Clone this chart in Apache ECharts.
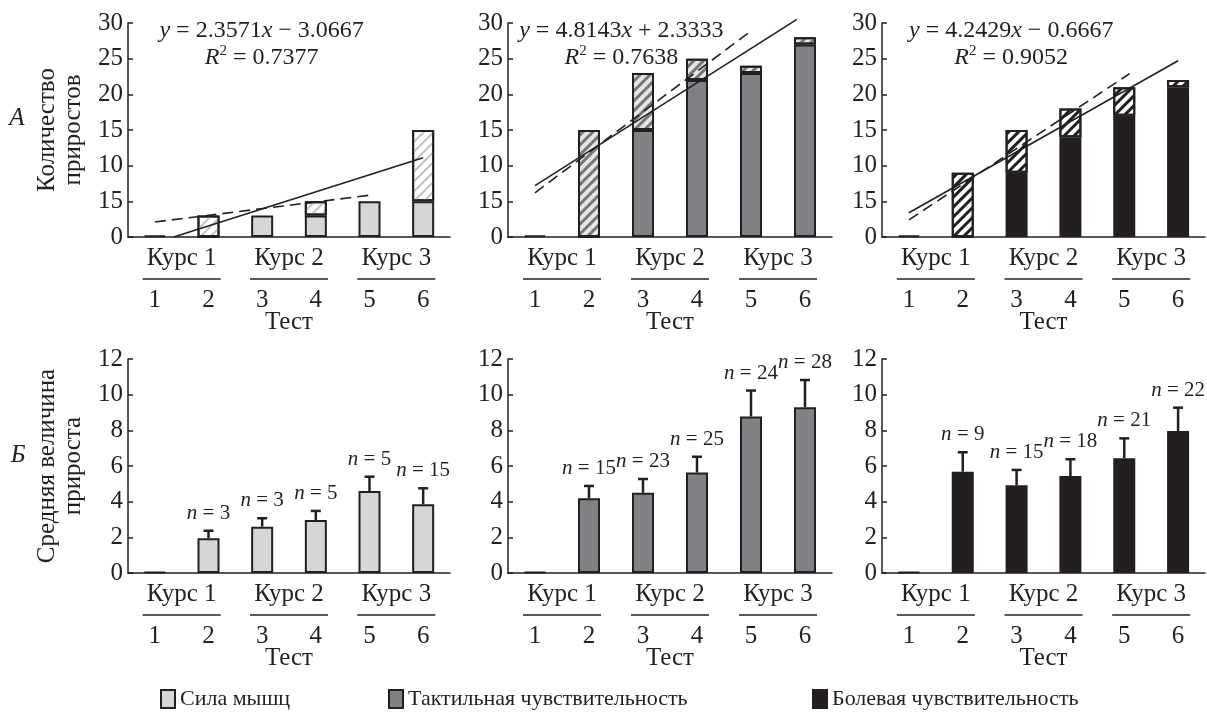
<!DOCTYPE html>
<html>
<head>
<meta charset="utf-8">
<script src="https://cdn.jsdelivr.net/npm/echarts@6/dist/echarts.min.js"></script>
<style>
  html, body { margin: 0; padding: 0; background: #fff; }
  #chart { width: 1207px; height: 712px; }
</style>
</head>
<body>
<div id="chart"></div>
<script>
// categories and labels
let tests = ['1', '2', '3', '4', '5', '6'];
let courses = ['Курс 1', 'Курс 2', 'Курс 3'];
let topTickLabels = ['0', '15', '10', '15', '20', '25', '30'];
let groupNames = ['Сила мышц', 'Тактильная чувствительность', 'Болевая чувствительность'];

// row A: number of gains (solid part + hatched part), per panel
let topSolid = [
  [0.2, 0, 3, 3, 5, 5],
  [0.2, 0, 15, 22, 23, 27],
  [0.2, 0, 9, 14, 17, 21]
];
let topHatch = [
  [0, 3, 0, 2, 0, 10],
  [0, 15, 8, 3, 1, 1],
  [0, 9, 6, 4, 4, 1]
];
// trend lines: [test, value]
let solidTrend = [
  [[1.35, 0], [6, 11.1]],
  [[1, 7.2], [5.85, 30.5]],
  [[1, 3.4], [6, 24.7]]
];
let dashTrend = [
  [[1, 2.1], [5.05, 5.9]],
  [[1, 6.2], [5.02, 29]],
  [[1, 2.4], [5.1, 22.9]]
];
let equations = [
  ['{i|y} = 2.3571{i|x} − 3.0667', '{i|R}{s|2} = 0.7377'],
  ['{i|y} = 4.8143{i|x} + 2.3333', '{i|R}{s|2} = 0.7638'],
  ['{i|y} = 4.2429{i|x} − 0.6667', '{i|R}{s|2} = 0.9052']
];

// row Б: mean gain, error (upper half), n
let meanGain = [
  [0.05, 1.95, 2.6, 2.97, 4.6, 3.85],
  [0.05, 4.19, 4.5, 5.63, 8.77, 9.29],
  [0.05, 5.68, 4.92, 5.44, 6.43, 7.96]
];
let gainErr = [
  [0, 0.42, 0.47, 0.51, 0.8, 0.9],
  [0, 0.69, 0.77, 0.89, 1.46, 1.53],
  [0, 1.09, 0.86, 0.94, 1.12, 1.31]
];
let nCounts = [
  ['', '3', '3', '5', '5', '15'],
  ['', '15', '23', '25', '24', '28'],
  ['', '9', '15', '18', '21', '22']
];

let FONT = '"Liberation Serif", "DejaVu Serif", serif';
let INK = '#231f20';
let FILLS = ['#d5d6d8', '#808184', '#231f20'];
let HATCH = ['#c2c2c4', '#76777a', '#231f20'];
let HATCH_BG = ['#ffffff', '#e6e6e7', '#ffffff'];
let lefts = [128, 508, 882];
let widths = [322, 324, 323];
let tops = [23, 359];
let PH = 214;

let chart = echarts.init(document.getElementById('chart'));

let txt = { fontFamily: FONT, color: INK };
let grid = [], xAxis = [], yAxis = [], series = [], graphic = [];

for (let row = 0; row < 2; row++) {
  for (let col = 0; col < 3; col++) {
    let gi = row * 3 + col;
    grid.push({ left: lefts[col], top: tops[row], width: widths[col], height: PH, containLabel: false, outerBoundsMode: 'none' });

    let mainX = xAxis.length;
    xAxis.push({
      gridIndex: gi, type: 'category', data: tests, position: 'bottom',
      axisLine: { lineStyle: { color: INK, width: 1.5 } },
      axisTick: { show: false },
      axisLabel: { ...txt, interval: 0, margin: 51, fontSize: 25, lineHeight: 25 },
      name: 'Тест', nameLocation: 'middle', nameGap: 73, nameMoveOverlap: false,
      nameTextStyle: { ...txt, fontSize: 25, lineHeight: 25 }
    });
    xAxis.push({
      gridIndex: gi, type: 'category', data: courses, position: 'bottom', offset: 0,
      axisLine: { show: false }, axisTick: { show: false }, splitLine: { show: false },
      axisLabel: {
        interval: 0, margin: 8,
        formatter: v => `{k|${v}}\n{u|}`,
        rich: {
          k: { ...txt, fontSize: 25, lineHeight: 26 },
          u: { width: 78, height: 1.6, lineHeight: 16, backgroundColor: INK }
        }
      }
    });

    yAxis.push({
      gridIndex: gi, type: 'value', min: 0,
      max: row === 0 ? 30 : 12, interval: row === 0 ? 5 : 2,
      axisLine: { show: true, lineStyle: { color: INK, width: 1.5 } },
      axisTick: { show: true, inside: true, length: 5, lineStyle: { color: INK, width: 1.5 } },
      splitLine: { show: false },
      axisLabel: {
        ...txt, fontSize: 25, margin: 5,
        formatter: row === 0 ? (v => topTickLabels[Math.round(v / 5)]) : (v => String(v))
      },
      name: col === 0 ? (row === 0 ? 'Количество\nприростов' : 'Средняя величина\nприроста') : '',
      nameLocation: 'middle', nameRotate: 90, nameGap: 42, nameMoveOverlap: false,
      nameTextStyle: { ...txt, fontSize: 25, lineHeight: 26 }
    });

    let barBorder = { borderColor: INK, borderWidth: 2 };

    if (row === 0) {
      let valX = xAxis.length;
      xAxis.push({ gridIndex: gi, type: 'value', min: 0.5, max: 6.5, show: false });

      series.push({
        type: 'bar', name: 'solid' + col, xAxisIndex: mainX, yAxisIndex: gi,
        stack: 'a' + col, barWidth: 22, data: topSolid[col],
        itemStyle: { color: FILLS[col], ...barBorder }
      });
      series.push({
        type: 'bar', name: 'hatch' + col, xAxisIndex: mainX, yAxisIndex: gi,
        stack: 'a' + col, barWidth: 22,
        data: topHatch[col].map(v => (v ? v : '-')),
        itemStyle: {
          color: HATCH_BG[col], ...barBorder,
          decal: {
            symbol: 'rect', symbolSize: 1, dashArrayX: [1, 0],
            dashArrayY: col === 0 ? [2, 5] : [3, 4],
            rotation: -Math.PI / 4, color: HATCH[col]
          }
        }
      });
      series.push({
        type: 'line', xAxisIndex: valX, yAxisIndex: gi, data: solidTrend[col],
        symbol: 'none', clip: false, z: 5, silent: true,
        lineStyle: { color: INK, width: 1.6 }
      });
      series.push({
        type: 'line', xAxisIndex: valX, yAxisIndex: gi, data: dashTrend[col],
        symbol: 'none', clip: false, z: 5, silent: true,
        lineStyle: { color: INK, width: 1.6, type: [11, 6] }
      });

      let cx = lefts[col] + widths[col] * [0.415, 0.35, 0.4][col];
      graphic.push({
        type: 'text', x: cx, y: 17,
        style: {
          text: equations[col].join('\n'), align: 'center', verticalAlign: 'top',
          font: '24px ' + FONT, fill: INK, lineHeight: 27,
          rich: {
            i: { fontStyle: 'italic', fontSize: 24, fontFamily: FONT, fill: INK },
            s: { fontSize: 15, fontFamily: FONT, fill: INK, verticalAlign: 'top', lineHeight: 27 }
          }
        }
      });
    } else {
      series.push({
        type: 'bar', name: groupNames[col], xAxisIndex: mainX, yAxisIndex: gi,
        barWidth: 22, data: meanGain[col],
        itemStyle: { color: FILLS[col], ...barBorder }
      });
      let labels = nCounts[col];
      series.push({
        type: 'custom', xAxisIndex: mainX, yAxisIndex: gi, z: 6, silent: true,
        data: meanGain[col].map((m, i) => [i, m, gainErr[col][i]]),
        renderItem: (params, api) => {
          let e = api.value(2);
          if (!e) return null;
          let i = api.value(0), m = api.value(1);
          let base = api.coord([i, m]);
          let top = api.coord([i, m + e]);
          let st = { stroke: INK, lineWidth: 2.5 };
          return {
            type: 'group',
            children: [
              { type: 'line', shape: { x1: base[0], y1: base[1], x2: top[0], y2: top[1] }, style: st },
              { type: 'line', shape: { x1: top[0] - 5, y1: top[1], x2: top[0] + 5, y2: top[1] }, style: st },
              {
                type: 'text',
                style: {
                  x: top[0], y: top[1] - 7, align: 'center', verticalAlign: 'bottom',
                  text: '{i|n} = ' + labels[params.dataIndex],
                  font: '21px ' + FONT, fill: INK,
                  rich: { i: { fontStyle: 'italic', fontSize: 21, fontFamily: FONT, fill: INK } }
                }
              }
            ]
          };
        }
      });
    }
  }
}

graphic.push({ type: 'text', x: 17, y: 118, style: { text: 'А', align: 'center', verticalAlign: 'middle', font: 'italic 25px ' + FONT, fill: INK } });
graphic.push({ type: 'text', x: 18, y: 455, style: { text: 'Б', align: 'center', verticalAlign: 'middle', font: 'italic 25px ' + FONT, fill: INK } });

let legendLefts = [160, 388, 812];
let legend = groupNames.map((n, i) => ({
  data: [n], left: legendLefts[i], top: 688, padding: 0, icon: 'rect',
  itemWidth: 14, itemHeight: 18, itemGap: 6, selectedMode: false,
  textStyle: { ...txt, fontSize: 22 }
}));

chart.setOption({
  animation: false,
  backgroundColor: '#fff',
  grid, xAxis, yAxis, series, legend, graphic
});
</script>
</body>
</html>
